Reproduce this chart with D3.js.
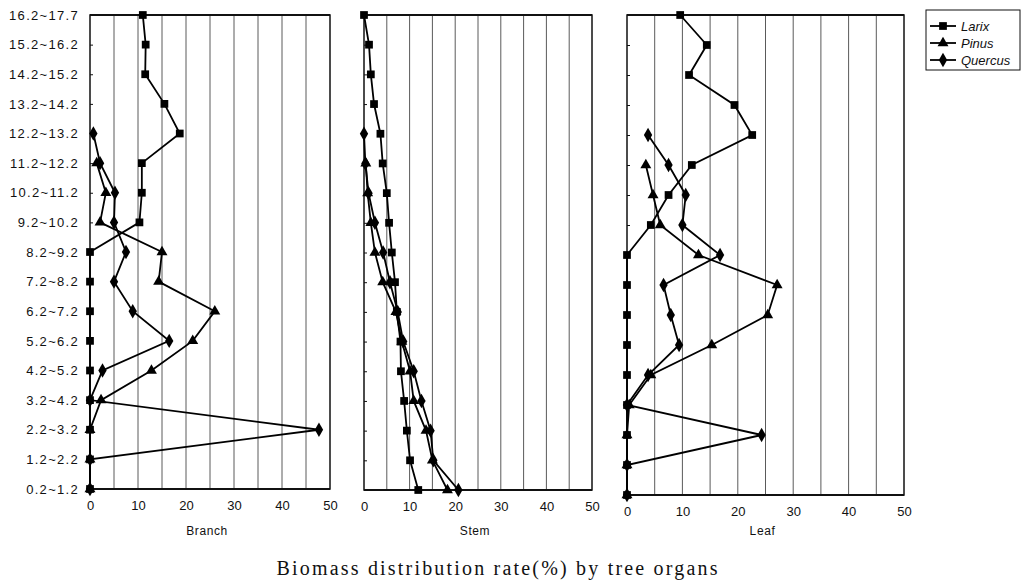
<!DOCTYPE html>
<html>
<head>
<meta charset="utf-8">
<script src="https://cdn.jsdelivr.net/npm/d3@7"></script>
<style>
  body { margin: 0; background: #fff; }
  svg { display: block; }
</style>
</head>
<body>
<div id="chart"></div>
<script>
// height classes (m), top to bottom
var categories = ["16.2~17.7","15.2~16.2","14.2~15.2","13.2~14.2","12.2~13.2","11.2~12.2","10.2~11.2","9.2~10.2","8.2~9.2","7.2~8.2","6.2~7.2","5.2~6.2","4.2~5.2","3.2~4.2","2.2~3.2","1.2~2.2","0.2~1.2"];
var xTicks = [0, 10, 20, 30, 40, 50];
var seriesNames = ["Larix", "Pinus", "Quercus"];

// Branch
var branchLarix   = [11.0, 11.6, 11.5, 15.5, 18.7, 10.8, 10.8, 10.3, 0, 0, 0, 0, 0, 0, 0, 0, 0];
var branchPinus   = [null, null, null, null, null, 1.4, 3.3, 2.1, 15.0, 14.3, 26.0, 21.4, 12.8, 2.3, 0, 0, 0];
var branchQuercus = [null, null, null, null, 0.7, 2.1, 5.2, 5.0, 7.5, 5.0, 8.9, 16.5, 2.6, 0, 47.7, 0, 0];

// Stem
var stemLarix   = [0, 1.1, 1.5, 2.2, 3.6, 4.1, 5.0, 5.5, 6.1, 6.8, 7.2, 8.0, 8.1, 8.8, 9.4, 10.1, 11.9];
var stemPinus   = [null, null, null, null, null, 0.4, 0.8, 1.5, 2.4, 4.1, 7.0, 8.3, 10.1, 10.9, 13.6, 15.0, 18.3];
var stemQuercus = [null, null, null, null, 0, 0.3, 1.0, 2.4, 4.2, 5.7, 7.4, 8.6, 10.9, 12.6, 14.6, 15.2, 20.7];

// Leaf
var leafLarix   = [9.6, 14.4, 11.2, 19.4, 22.6, 11.7, 7.5, 4.3, 0, 0, 0, 0, 0, 0, 0, 0, 0];
var leafPinus   = [null, null, null, null, null, 3.4, 4.7, 6.0, 12.9, 27.1, 25.4, 15.3, 4.3, 0.4, 0, 0, 0];
var leafQuercus = [null, null, null, null, 3.8, 7.5, 10.6, 10.0, 16.8, 6.6, 7.9, 9.4, 3.8, 0, 24.3, 0, 0];

var W = 1026, H = 588;
var symbols = { Larix: d3.symbolSquare, Pinus: d3.symbolTriangle, Quercus: d3.symbolDiamond };
var symSize = { Larix: 60, Pinus: 52, Quercus: 60 };

var panels = [
    { label: "Branch", x0: 90,  x1: 330, y0: 15, y1: 489, showY: true,
      data: { Larix: branchLarix, Pinus: branchPinus, Quercus: branchQuercus } },
    { label: "Stem",   x0: 364, x1: 592, y0: 15, y1: 490, showY: false,
      data: { Larix: stemLarix, Pinus: stemPinus, Quercus: stemQuercus } },
    { label: "Leaf",   x0: 627, x1: 904, y0: 15, y1: 495, showY: false,
      data: { Larix: leafLarix, Pinus: leafPinus, Quercus: leafQuercus } }
];

var svg = d3.select("#chart").append("svg")
    .attr("width", W)
    .attr("height", H);

svg.append("rect").attr("width", W).attr("height", H).attr("fill", "#fff");

function drawPanel(p){
    var x = d3.scaleLinear().domain([0, 50]).range([p.x0, p.x1]);
    var y = d3.scalePoint().domain(categories).range([p.y0, p.y1]);
    var g = svg.append("g").attr("class", "panel");

    // vertical grid every 5
    g.selectAll("line.grid")
        .data(d3.range(5, 50, 5))
        .enter().append("line")
            .attr("class", "grid")
            .attr("x1", function(d){ return x(d); })
            .attr("x2", function(d){ return x(d); })
            .attr("y1", p.y0)
            .attr("y2", p.y1)
            .attr("stroke", "#5a5a5a")
            .attr("stroke-width", 1);

    // frame
    g.append("rect")
        .attr("x", p.x0).attr("y", p.y0)
        .attr("width", p.x1 - p.x0).attr("height", p.y1 - p.y0)
        .attr("fill", "none")
        .attr("stroke", "#111")
        .attr("stroke-width", 1.5);
    g.append("line")
        .attr("x1", p.x0).attr("x2", p.x1).attr("y1", p.y0).attr("y2", p.y0)
        .attr("stroke", "#111").attr("stroke-width", 2.2);
    g.append("line")
        .attr("x1", p.x0).attr("x2", p.x1).attr("y1", p.y1).attr("y2", p.y1)
        .attr("stroke", "#111").attr("stroke-width", 2);

    // x axis labels
    var xAxis = d3.axisBottom(x).tickValues(xTicks).tickSize(0).tickPadding(12);
    var ax = g.append("g").attr("transform", "translate(0," + p.y1 + ")").call(xAxis);
    ax.select(".domain").remove();
    ax.selectAll("text")
        .attr("font-family", "Liberation Sans, Arial, sans-serif")
        .attr("font-size", "13px")
        .attr("fill", "#111");

    // y axis (inner small ticks)
    var yAxis = d3.axisLeft(y).tickSize(-3).tickPadding(11);
    var ay = g.append("g").attr("transform", "translate(" + p.x0 + ",0)").call(yAxis);
    ay.select(".domain").remove();
    ay.selectAll("line").attr("stroke", "#111");
    if (p.showY) {
        ay.selectAll("text")
            .attr("font-family", "Liberation Sans, Arial, sans-serif")
            .attr("font-size", "13px")
            .attr("letter-spacing", "1.3px")
            .attr("fill", "#111");
    } else {
        ay.selectAll("text").remove();
    }

    // organ label
    g.append("text")
        .attr("x", (p.x0 + p.x1) / 2 - 3)
        .attr("y", 535)
        .attr("text-anchor", "middle")
        .attr("font-family", "Liberation Sans, Arial, sans-serif")
        .attr("font-size", "12px")
        .attr("letter-spacing", "0.6px")
        .attr("fill", "#111")
        .text(p.label);

    // series
    seriesNames.forEach(function(name){
        var vals = p.data[name];
        var pts = categories.map(function(c, i){ return { c: c, v: vals[i] }; });
        var line = d3.line()
            .defined(function(d){ return d.v !== null; })
            .x(function(d){ return x(d.v); })
            .y(function(d){ return y(d.c); });

        g.append("path")
            .datum(pts)
            .attr("d", line)
            .attr("fill", "none")
            .attr("stroke", "#000")
            .attr("stroke-width", 1.8);

        g.selectAll("path.m-" + name)
            .data(pts.filter(function(d){ return d.v !== null; }))
            .enter().append("path")
                .attr("class", "m-" + name)
                .attr("transform", function(d){ return "translate(" + x(d.v) + "," + y(d.c) + ")"; })
                .attr("d", d3.symbol().type(symbols[name]).size(symSize[name]))
                .attr("fill", "#000");
    });
}

panels.forEach(drawPanel);

// legend
var lg = svg.append("g").attr("transform", "translate(926,10)");
lg.append("rect")
    .attr("width", 94).attr("height", 60)
    .attr("fill", "#fff")
    .attr("stroke", "#111")
    .attr("stroke-width", 1);
seriesNames.forEach(function(name, i){
    var yy = 16 + i * 17;
    lg.append("line")
        .attr("x1", 4).attr("x2", 30).attr("y1", yy).attr("y2", yy)
        .attr("stroke", "#000").attr("stroke-width", 1.8);
    lg.append("path")
        .attr("transform", "translate(17," + yy + ")")
        .attr("d", d3.symbol().type(symbols[name]).size(symSize[name]))
        .attr("fill", "#000");
    lg.append("text")
        .attr("x", 35).attr("y", yy + 4.5)
        .attr("font-family", "Liberation Sans, Arial, sans-serif")
        .attr("font-style", "italic")
        .attr("font-size", "13px")
        .attr("fill", "#111")
        .text(name);
});

// title
svg.append("text")
    .attr("x", 497)
    .attr("y", 575)
    .attr("text-anchor", "middle")
    .attr("font-family", "Liberation Serif, Times New Roman, serif")
    .attr("font-size", "20px")
    .attr("textLength", 441)
    .attr("lengthAdjust", "spacing")
    .attr("fill", "#111")
    .text("Biomass distribution rate(%) by tree organs");
</script>
</body>
</html>
